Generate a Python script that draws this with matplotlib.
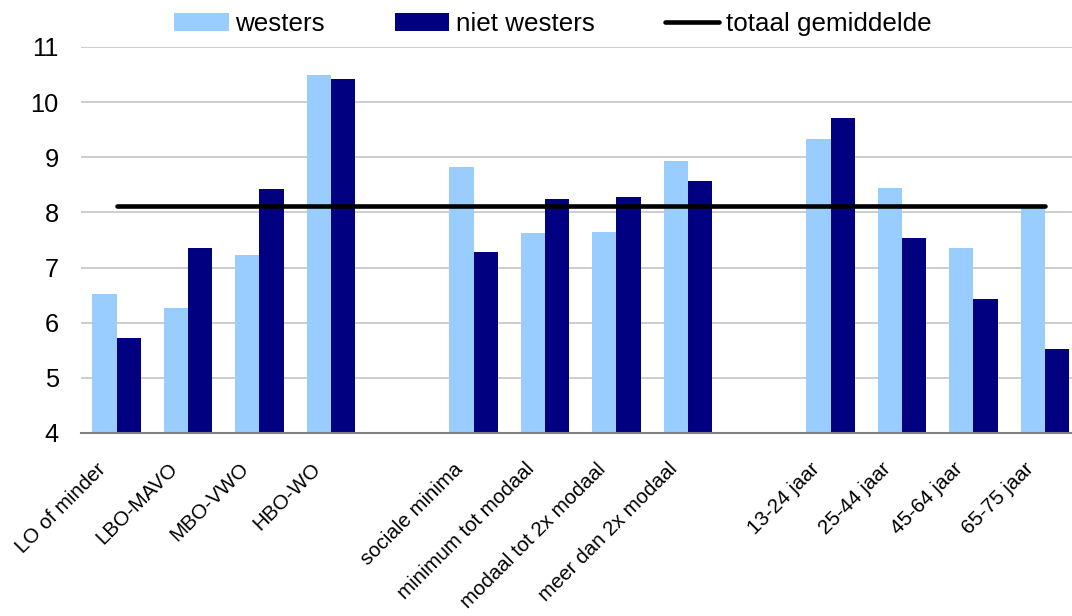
import numpy as np
import matplotlib
matplotlib.use('Agg')
import matplotlib.pyplot as plt
import matplotlib.transforms as mtransforms

plt.rcParams['font.family'] = ['Liberation Sans', 'DejaVu Sans']

# data
groups = [
    ['LO of minder', 'LBO-MAVO', 'MBO-VWO', 'HBO-WO'],
    ['sociale minima', 'minimum tot modaal', 'modaal tot 2x modaal', 'meer dan 2x modaal'],
    ['13-24 jaar', '25-44 jaar', '45-64 jaar', '65-75 jaar'],
]
westers = [6.52, 6.27, 7.23, 10.50,
           8.83, 7.63, 7.65, 8.94,
           9.34, 8.45, 7.36, 8.13]
niet_westers = [5.73, 7.36, 8.43, 10.42,
                7.28, 8.25, 8.28, 8.57,
                9.72, 7.54, 6.43, 5.52]
totaal_gemiddelde = 8.11

# x positions: one empty slot between groups
labels = []
xpos = []
slot = 0
for g in groups:
    for name in g:
        labels.append(name)
        xpos.append(slot)
        slot += 1
    slot += 1
xpos = np.array(xpos, dtype=float)

fig = plt.figure(figsize=(10.72, 6.16), dpi=100)
ax = fig.add_axes([81 / 1072, 1 - 433 / 616, 1 - 81 / 1072, (433 - 47) / 616])

w = 0.34
b1 = ax.bar(xpos - w / 2, westers, width=w, color='#99CCFF', label='westers', zorder=2)
b2 = ax.bar(xpos + w / 2, niet_westers, width=w, color='#000080', label='niet westers', zorder=2)
l1, = ax.plot([xpos[0], xpos[-1]], [totaal_gemiddelde, totaal_gemiddelde], color='black',
              linewidth=3.3, solid_capstyle='round', label='totaal gemiddelde', zorder=3)

ax.set_ylim(4, 11)
ax.set_xlim(-0.5, 13.38)
ax.set_yticks(range(4, 12))
ax.grid(axis='y', color='#C0C0C0', linewidth=1.1, zorder=0)
ax.set_axisbelow(True)
for s in ['top', 'right', 'left']:
    ax.spines[s].set_visible(False)
ax.spines['bottom'].set_color('#808080')
ax.spines['bottom'].set_linewidth(1.5)
ax.spines['bottom'].set_zorder(4)

ax.tick_params(axis='y', length=0, pad=16, labelsize=18.3)
ax.tick_params(axis='x', length=0, pad=19, labelsize=14.8)
ax.set_xticks(xpos)
ax.set_xticklabels(labels, rotation=45, ha='right')
offset = mtransforms.ScaledTranslation(-7 / 100, 0, fig.dpi_scale_trans)
for lbl in ax.get_xticklabels():
    lbl.set_transform(lbl.get_transform() + offset)

fig.legend([b1, b2, l1], ['westers', 'niet westers', 'totaal gemiddelde'],
           loc='center left', bbox_to_anchor=(174 / 1072, 1 - 24 / 616), ncol=3,
           frameon=False, fontsize=18.7, borderpad=0, borderaxespad=0,
           handlelength=2.1, handleheight=0.67, handletextpad=0.25, columnspacing=2.7)

fig.savefig('out.png', dpi=100)
